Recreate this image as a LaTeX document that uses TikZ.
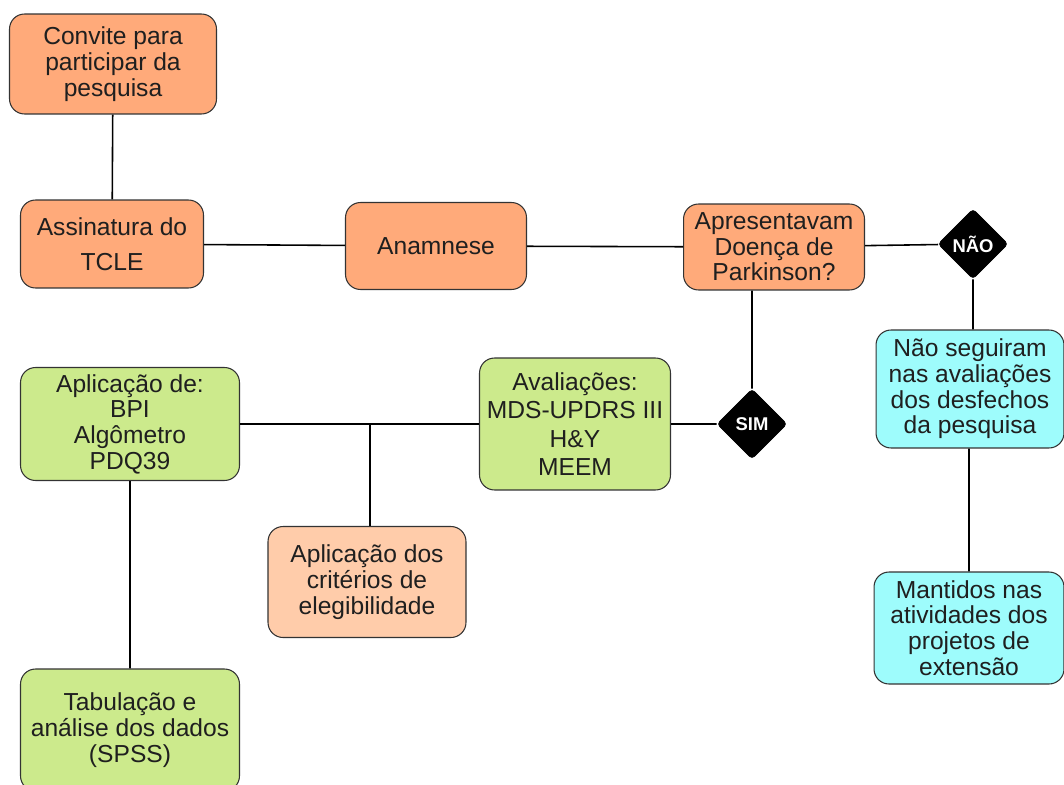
\documentclass[tikz,border=0pt]{standalone}
\usepackage{fontspec}
\setmainfont{Liberation Sans}
\usepackage{xcolor}
\usetikzlibrary{shapes.geometric}

\definecolor{boxorange}{HTML}{FFAA7A}
\definecolor{boxpeach}{HTML}{FFCCAA}
\definecolor{boxgreen}{HTML}{CCEA8C}
\definecolor{boxcyan}{HTML}{9EFCFC}
\definecolor{boxline}{HTML}{333333}

\begin{document}
\begin{tikzpicture}[
        x=0.02cm, y=-0.02cm,
        every node/.style={font=\fontsize{14}{14.6}\selectfont, text=black!88,
          align=center, inner sep=2pt},
        stage/.style={draw=boxline, line width=0.6pt, rounded corners=0.3cm},
        orangebox/.style={stage, fill=boxorange},
        peachbox/.style={stage, fill=boxpeach},
        greenbox/.style={stage, fill=boxgreen},
        cyanbox/.style={stage, fill=boxcyan},
        decision/.style={diamond, fill=black, draw=black, rounded corners=2pt,
          minimum width=1.4cm, minimum height=1.4cm, inner sep=0pt,
          text=white, font=\fontsize{10.5}{11}\selectfont\bfseries},
        link/.style={draw=black, line width=0.9pt},
      ]

      \useasboundingbox (0,0) rectangle (1064,784);

      % upper row
      \node[orangebox, minimum width=4.14cm, minimum height=2cm]
        (convite) at (113,64) {Convite para\\participar da\\pesquisa};
      \node[orangebox, minimum width=3.66cm, minimum height=1.76cm]
        (tcle) at (112,244) {Assinatura do\\[5pt]TCLE};
      \node[orangebox, minimum width=3.62cm, minimum height=1.74cm]
        (anamnese) at (436,246) {Anamnese};
      \node[orangebox, minimum width=3.62cm, minimum height=1.72cm]
        (doenca) at (774,247) {Apresentavam\\Doença de\\Parkinson?};
      \node[decision] (nao) at (973,244) {NÃO};

      % right column
      \node[cyanbox, minimum width=3.76cm, minimum height=2.36cm]
        (naoseg) at (970,389) {Não seguiram\\nas avaliações\\dos desfechos\\da pesquisa};
      \node[cyanbox, minimum width=3.8cm, minimum height=2.24cm]
        (mantidos) at (969,628) {Mantidos nas\\atividades dos\\projetos de\\extensão};

      % lower part
      \node[decision] (sim) at (752,424) {SIM};
      \node[greenbox, minimum width=3.82cm, minimum height=2.64cm]
        (avaliacoes) at (575,424) {Avaliações:\\[1.5pt]MDS-UPDRS III\\[1.5pt]H\&Y\\[1.5pt]MEEM};
      \node[greenbox, minimum width=4.38cm, minimum height=2.26cm]
        (aplicacao) at (130,424) {Aplicação de:\\BPI\\Algômetro\\PDQ39};
      \node[peachbox, minimum width=3.96cm, minimum height=2.22cm]
        (criterios) at (367,582) {Aplicação dos\\critérios de\\elegibilidade};
      \node[greenbox, minimum width=4.38cm, minimum height=2.44cm]
        (tabulacao) at (130,730) {Tabulação e\\análise dos dados\\(SPSS)};

      \coordinate (junc) at (370,424);

      \path[link]
      (convite) -- (tcle)
      (tcle) -- (anamnese)
      (anamnese) -- (doenca)
      (doenca) -- (nao)
      (nao) -- (nao |- naoseg.north)
      (naoseg.south -| mantidos) -- (mantidos)
      (doenca.south -| sim) -- (sim)
      (sim) -- (avaliacoes)
      (avaliacoes) -- (aplicacao)
      (junc) -- (junc |- criterios.north)
      (aplicacao.south -| tabulacao) -- (tabulacao);
    \end{tikzpicture}
\end{document}
